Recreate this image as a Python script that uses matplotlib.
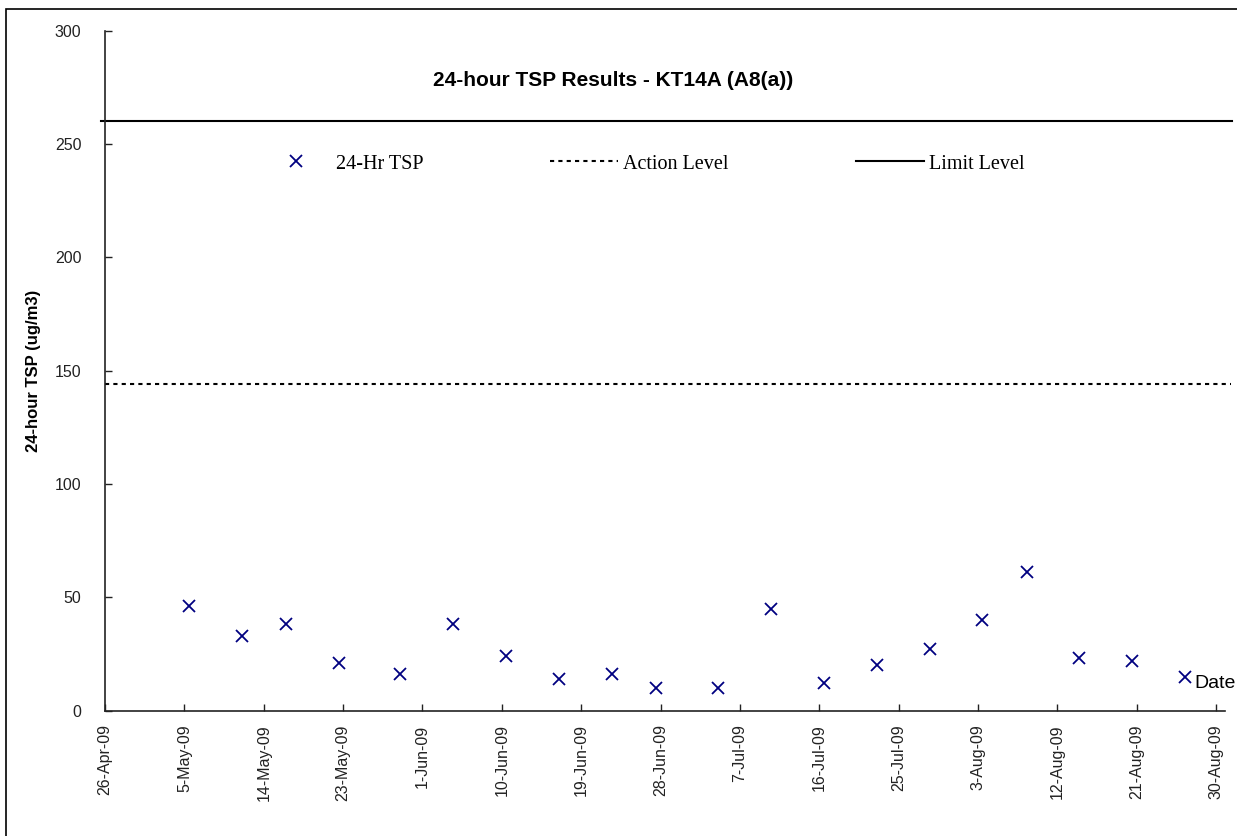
#!/usr/bin/env python3
"""24-hour TSP results chart for monitoring station KT14A (A8(a))."""

import pandas as pd
import matplotlib
matplotlib.use('Agg')
import matplotlib.pyplot as plt
import matplotlib.ticker as mticker
from matplotlib.lines import Line2D
from matplotlib.patches import Rectangle

# sampling dates and 24-hr TSP readings (ug/m3)
sample_dates = ['2009-05-05', '2009-05-11', '2009-05-16', '2009-05-22', '2009-05-29',
                '2009-06-04', '2009-06-10', '2009-06-16', '2009-06-22', '2009-06-27',
                '2009-07-04', '2009-07-10', '2009-07-16', '2009-07-22', '2009-07-28',
                '2009-08-03', '2009-08-08', '2009-08-14', '2009-08-20', '2009-08-26']
tsp_values = [46, 33, 38, 21, 16, 38, 24, 14, 16, 10,
              10, 45, 12, 20, 27, 40, 61, 23, 22, 15]

action_level = 144
limit_level = 260

y_ticks = [0, 50, 100, 150, 200, 250, 300]
x_start = '2009-04-26'
x_end = '2009-08-31'

SANS = ['Liberation Sans', 'DejaVu Sans']
SERIF = ['Liberation Serif', 'DejaVu Serif']


def date_label(x, pos=None):
    d = matplotlib.dates.num2date(x)
    return f"{d.day}-{d:%b-%y}"


def main():
    plt.rcParams['font.family'] = SANS

    fig = plt.figure(figsize=(12.37, 8.36), dpi=100)
    ax = fig.add_axes([0.0849, 0.150, 0.9054, 0.8133])

    # outer chart frame (only top/left edges fall inside the image)
    fig.patches.append(Rectangle((6 / 1237, -0.05), 1.1, 1 - 9 / 836 + 0.05,
                                 transform=fig.transFigure, fill=False,
                                 edgecolor='black', linewidth=1.2))

    # Excel date axis puts each point in the middle of its day slot
    dates = pd.to_datetime(sample_dates) + pd.Timedelta(hours=12)
    ax.plot(dates, tsp_values, linestyle='none', marker='x', markersize=9,
            markeredgewidth=1.3, color='#000080', clip_on=False)

    ax.axhline(action_level, xmin=0, xmax=1.005, color='black', linewidth=1.5,
               linestyle=(0, (2, 2)), clip_on=False)
    ax.axhline(limit_level, xmin=-0.004, xmax=1.006, color='black',
               linewidth=1.5, clip_on=False)

    ax.set_xlim(pd.Timestamp(x_start), pd.Timestamp(x_end))
    ax.set_ylim(y_ticks[0], y_ticks[-1])
    ax.set_yticks(y_ticks)
    ax.set_xticks(pd.date_range(x_start, '2009-08-30', freq='9D'))
    ax.xaxis.set_major_formatter(mticker.FuncFormatter(date_label))

    for side in ['top', 'right']:
        ax.spines[side].set_visible(False)
    for side in ['left', 'bottom']:
        ax.spines[side].set_color('#222222')
        ax.spines[side].set_linewidth(1.2)

    ax.tick_params(axis='y', direction='in', length=5, width=1, pad=17,
                   labelsize=11.5, labelcolor='#222222', color='#222222')
    ax.tick_params(axis='x', direction='in', length=5, width=1, pad=10,
                   labelsize=11.5, labelcolor='#222222', color='#222222',
                   labelrotation=90)

    ax.set_ylabel('24-hour TSP (ug/m3)', fontsize=12, fontweight='bold',
                  labelpad=10)
    fig.text(1236 / 1237, 1 - 683 / 836, 'Date', fontsize=14,
             va='center', ha='right')
    fig.text(613 / 1237, 1 - 80 / 836, '24-hour TSP Results - KT14A (A8(a))',
             fontsize=15, fontweight='bold', ha='center', va='center')

    handles = [
        Line2D([], [], linestyle='none', marker='x', markersize=9,
               markeredgewidth=1.3, color='#000080'),
        Line2D([], [], color='black', linewidth=1.5, linestyle=(0, (2, 2))),
        Line2D([], [], color='black', linewidth=1.5),
    ]
    labels = ['24-Hr TSP', 'Action Level', 'Limit Level']
    fig.legend(handles, labels, loc='center left',
               bbox_to_anchor=(252 / 1237, 1 - 164 / 836), ncol=3,
               frameon=False, borderpad=0, handlelength=3.4,
               handletextpad=0.25, columnspacing=6.3,
               prop={'family': SERIF, 'size': 14.5})

    fig.savefig('out.png', dpi=100)


if __name__ == '__main__':
    main()
